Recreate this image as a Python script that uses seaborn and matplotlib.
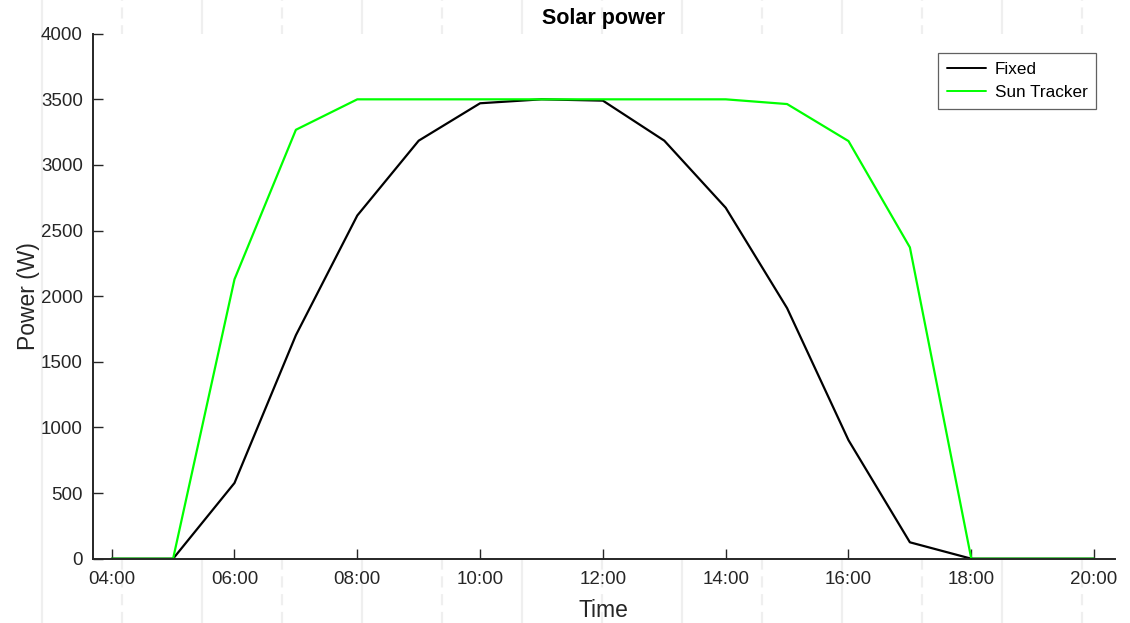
import numpy as np
import pandas as pd
import seaborn as sns
import matplotlib
matplotlib.use("Agg")
import matplotlib.pyplot as plt
from matplotlib.lines import Line2D

# ---- data ----
hours = [4, 5, 6, 7, 8, 9, 10, 11, 12, 13, 14, 15, 16, 17, 18, 19, 20]
fixed = [0, 0, 577, 1703, 2615, 3185, 3470, 3500, 3490, 3185, 2674, 1909, 903, 125, 0, 0, 0]
tracker = [0, 0, 2129, 3268, 3500, 3500, 3500, 3500, 3500, 3500, 3500, 3464, 3182, 2372, 0, 0, 0]
series_names = ["Fixed", "Sun Tracker"]
tick_hours = [4, 6, 8, 10, 12, 14, 16, 18, 20]
tick_labels = ["04:00", "06:00", "08:00", "10:00", "12:00", "14:00", "16:00", "18:00", "20:00"]
y_ticks = [0, 500, 1000, 1500, 2000, 2500, 3000, 3500, 4000]

df = pd.concat([
    pd.DataFrame({"Time": hours, "Power": fixed, "Series": series_names[0]}),
    pd.DataFrame({"Time": hours, "Power": tracker, "Series": series_names[1]}),
], ignore_index=True)

sns.set_style("white")
plt.rcParams["font.family"] = ["Liberation Sans", "DejaVu Sans"]

fig = plt.figure(figsize=(11.3, 6.23), dpi=100)
fig.patch.set_facecolor("white")

# faint background figure lines (visible only outside the axes)
for k in range(14):
    xf = (42 + 80 * k) / 1130
    ls = "-" if k % 2 == 0 else (0, (5, 3))
    fig.add_artist(Line2D([xf, xf], [0, 1], transform=fig.transFigure,
                          color="#efefef", lw=1.6, linestyle=ls, zorder=0))

ax = fig.add_axes([0.0820, 0.1032, 0.9047, 0.8427])
ax.set_facecolor("white")
ax.set_zorder(1)

sns.lineplot(data=df, x="Time", y="Power", hue="Series",
             palette={"Fixed": "black", "Sun Tracker": "#00ff00"},
             hue_order=series_names, linewidth=1.6, ax=ax, legend=True)

ax.set_xlim(3.69, 20.34)
ax.set_ylim(0, 4000)
ax.set_xticks(tick_hours)
ax.set_xticklabels(tick_labels)
ax.set_yticks(y_ticks)

for side in ["top", "right"]:
    ax.spines[side].set_visible(False)
for side in ["left", "bottom"]:
    ax.spines[side].set_color("#262626")
    ax.spines[side].set_linewidth(1.4)

ax.tick_params(axis="both", direction="in", length=7, width=1.0,
               colors="#262626", labelsize=13.5, labelcolor="#262626",
               bottom=True, left=True, top=False, right=False)
ax.tick_params(axis="x", pad=9)
ax.tick_params(axis="y", pad=7)

ax.set_xlabel("Time", fontsize=16.5, color="#262626", labelpad=8)
ax.set_ylabel("Power (W)", fontsize=16.5, color="#262626", labelpad=1)
ax.set_title("Solar power", fontsize=15.5, fontweight="bold", color="black", pad=7)

leg = ax.legend(loc="upper right", bbox_to_anchor=(0.9815, 0.963), fontsize=12.3,
                frameon=True, fancybox=False, borderpad=0.5, labelspacing=0.5,
                handlelength=2.3, handletextpad=0.5, borderaxespad=0.0)
leg.get_frame().set_edgecolor("#3a3a3a")
leg.get_frame().set_linewidth(0.9)
for t in leg.get_texts():
    t.set_color("black")
for h in leg.get_lines():
    h.set_linewidth(1.4)

fig.savefig("out.png", dpi=100)
